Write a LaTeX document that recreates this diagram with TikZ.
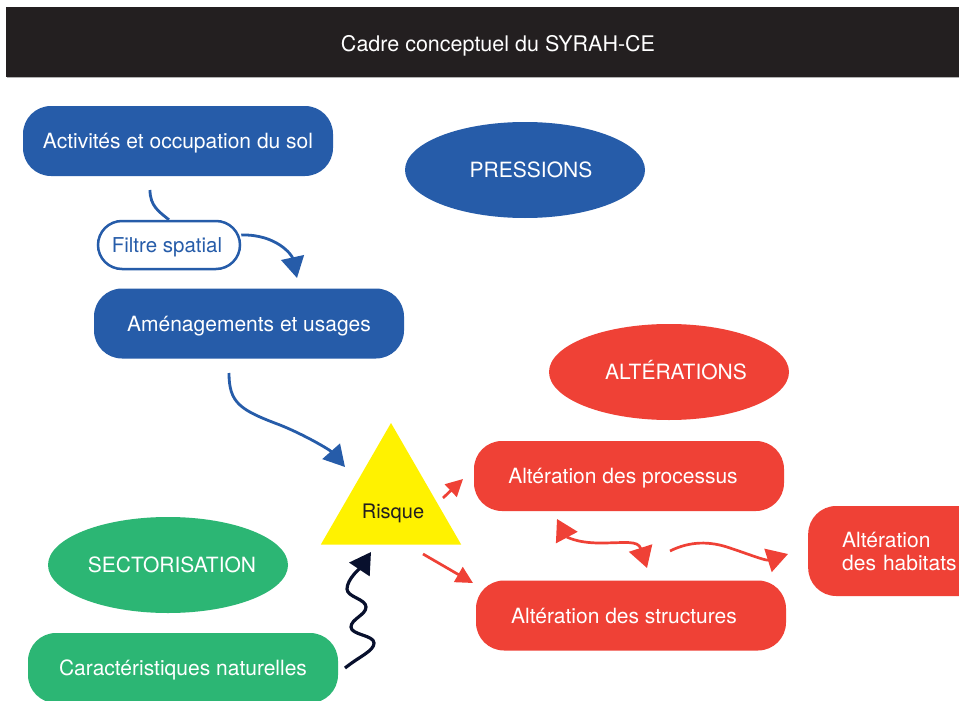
\documentclass[tikz,border=0pt]{standalone}
\usepackage{fontspec}
\setmainfont{TeX Gyre Heros}
\usetikzlibrary{arrows.meta,shapes.geometric}
\definecolor{sblue}{RGB}{38,92,169}
\definecolor{sred}{RGB}{239,65,54}
\definecolor{sgreen}{RGB}{44,182,116}
\definecolor{syellow}{RGB}{255,242,0}
\definecolor{sbar}{RGB}{35,31,32}
\definecolor{snavy}{RGB}{8,16,45}
\newcommand{\shiftR}[2]{#2\hspace*{-#1}}
\newcommand{\shiftL}[2]{\hspace*{-#1}#2}
\begin{document}
\begin{tikzpicture}[x=1pt,y=-1pt,
  txt/.style={font=\fontsize{21}{23}\selectfont},
  capc/.style={text height=15pt, text depth=0pt},
  box/.style={txt, capc, rounded corners=28pt, minimum width=310pt, minimum height=70pt, inner sep=0pt, text=white},
  blob/.style={txt, capc, ellipse, minimum width=240pt, minimum height=96pt, inner sep=0pt, text=white},
  bluecurve/.style={draw=sblue, line width=2.8pt},
  bluearrow/.style={bluecurve, -{Triangle[length=21pt,width=23pt]}},
  redarrow/.style={draw=sred, line width=2.7pt, -{Triangle[length=21pt,width=24pt]}},
  redsmall/.style={draw=sred, line width=2.7pt, -{Triangle[length=17pt,width=17pt]}},
  navyarrow/.style={draw=snavy, line width=3.2pt, -{Triangle[length=21pt,width=24pt]}}
]
\clip (0,0) rectangle (959,701);
\fill[white] (0,0) rectangle (959,701);
% title bar
\node[fill=sbar, minimum width=984pt, minimum height=70pt, inner sep=0pt] (bar) at (498,42) {};
\draw[gray!60, line width=1pt] (7,78) -- (959,78);
\node[font=\fontsize{21.5}{25}\selectfont, text=white, capc, inner sep=0pt] (title) at (498,44.5) {Cadre conceptuel du SYRAH-CE};

% pressions
\node[box, fill=sblue] (act) at (178,141) {Activités et occupation du sol};
\node[blob, fill=sblue] (press) at (525,170) {\shiftR{12pt}{PRESSIONS}};
\node[txt, font=\fontsize{20.5}{23}\selectfont, capc, draw=sblue, line width=2.5pt, fill=white, text=sblue, rounded corners=24pt,
      minimum width=142pt, minimum height=48pt, inner sep=0pt] (filtre) at (169,245) {\shiftL{4pt}{Filtre spatial}};
\node[box, fill=sblue] (amen) at (249,323.5) {Aménagements et usages};

% risque
\node[regular polygon, regular polygon sides=3, minimum size=162pt, inner sep=0pt, fill=syellow] (risque) at (391,504) {};
\node[font=\fontsize{20}{23}\selectfont, capc, text=sbar, inner sep=0pt] (risquetxt) at (393,511) {Risque};

% alterations
\node[blob, fill=sred] (alter) at (669,372) {\shiftR{14pt}{ALTÉRATIONS}};
\node[box, fill=sred] (proc) at (629,476) {\shiftL{12pt}{Altération des processus}};
\node[box, fill=sred] (struct) at (631,615.5) {\shiftL{14pt}{Altération des structures}};
\node[txt, fill=sred, text=white, rounded corners=28pt, anchor=west, align=left,
      text width=122pt, inner xsep=34pt, inner ysep=0pt, minimum height=90pt] (hab) at (808,551) {Altération\\des habitats};

% sectorisation
\node[blob, fill=sgreen] (sect) at (168,565) {\shiftR{8pt}{SECTORISATION}};
\node[box, fill=sgreen] (carac) at (183,668) {Caractéristiques naturelles};

% connectors
\coordinate (a1s) at (150,190);
\draw[bluecurve] (a1s) .. controls +(0,16) and +(-10,-8) .. (filtre.north);
\coordinate (a2e) at (297,278);
\draw[bluearrow] ([yshift=10pt]filtre.east) .. controls +(35,-1) and +(-5,-23) .. (a2e);
\coordinate (a3s) at (229,373);
\coordinate (a3e) at (345,467);
\draw[bluearrow] (a3s) .. controls +(0,30) and +(-40,-15) .. (280,425) .. controls +(25,10) and +(-15,-17) .. (a3e);

\coordinate (r1s) at (443,498);
\coordinate (r1e) at (463,479);
\draw[redsmall] (r1s) -- (r1e);
\coordinate (r2s) at (423,554);
\coordinate (r2e) at (473,583);
\draw[redsmall] (r2s) -- (r2e);

\coordinate (r3a) at (557,519);
\coordinate (r3b) at (647,568);
\draw[draw=sred, line width=2.7pt, {Triangle[length=21pt,width=24pt]}-{Triangle[length=21pt,width=24pt]}]
  (r3a) .. controls (566,536) and (575,543) .. (600,543) .. controls (625,543) and (638,540) .. (r3b);

\coordinate (r4s) at (670,551);
\coordinate (r4e) at (788,554);
\draw[redarrow] (r4s) .. controls (690,541) and (710,541) .. (730,548) .. controls (748,554) and (766,561) .. (r4e);

\coordinate (bs) at (345,668);
\coordinate (be) at (371,552);
\draw[navyarrow] (bs) .. controls +(15,-12) and +(0,8) .. (374,643)
  .. controls +(0,-8) and +(0,8) .. (351,627)
  .. controls +(0,-8) and +(0,8) .. (366,607)
  .. controls +(0,-8) and +(0,8) .. (347,589)
  .. controls +(0,-10) and +(-10,15) .. (be);
\end{tikzpicture}
\end{document}
